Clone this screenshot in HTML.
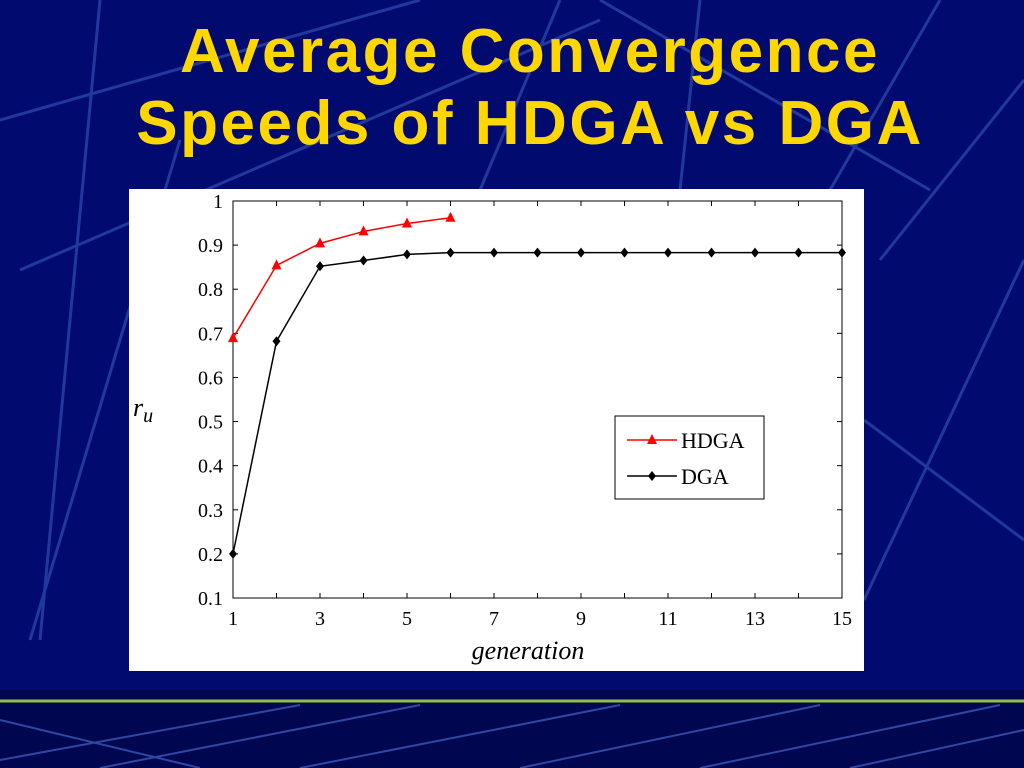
<!DOCTYPE html>
<html><head><meta charset="utf-8"><style>
html,body{margin:0;padding:0;width:1024px;height:768px;overflow:hidden;background:#00086b;font-family:"Liberation Sans",sans-serif}
#bg{position:absolute;left:0;top:0}
#title{position:absolute;left:0;top:16px;width:1060px;text-align:center;color:#ffd700;font-weight:bold;font-size:62px;line-height:72px;letter-spacing:2.5px}
#chart{position:absolute;left:129px;top:189px}
</style></head><body>
<svg id="bg" width="1024" height="768">
<rect width="1024" height="768" fill="#010a6e"/>
<g stroke="#2a45a8" stroke-width="3" fill="none" opacity="0.8">
<line x1="0" y1="120" x2="420" y2="0"/>
<line x1="20" y1="270" x2="600" y2="20"/>
<line x1="100" y1="0" x2="40" y2="640"/>
<line x1="180" y1="140" x2="30" y2="640"/>
<line x1="560" y1="0" x2="480" y2="190"/>
<line x1="600" y1="0" x2="930" y2="190"/>
<line x1="940" y1="0" x2="830" y2="190"/>
<line x1="880" y1="260" x2="1024" y2="80"/>
<line x1="864" y1="600" x2="1024" y2="260"/>
<line x1="864" y1="420" x2="1024" y2="540"/>
<line x1="700" y1="0" x2="680" y2="190"/>
</g>
<rect y="690" width="1024" height="78" fill="#000750"/>
<line x1="0" y1="701" x2="1024" y2="701" stroke="#8fbf4a" stroke-width="3"/>
<g stroke="#3a58b8" stroke-width="2" opacity="0.8">
<line x1="0" y1="760" x2="300" y2="705"/><line x1="100" y1="768" x2="420" y2="705"/>
<line x1="300" y1="768" x2="620" y2="705"/><line x1="520" y1="768" x2="820" y2="705"/>
<line x1="700" y1="768" x2="1000" y2="705"/><line x1="850" y1="768" x2="1024" y2="730"/>
<line x1="0" y1="720" x2="200" y2="768"/>
</g>
</svg>
<div id="title">Average Convergence<br>Speeds of HDGA vs DGA</div>
<svg id="chart" width="735" height="482"></svg>
<script>
const generations=[1,2,3,4,5,6,7,8,9,10,11,12,13,14,15];
const hdga=[0.689,0.854,0.904,0.931,0.949,0.962];
const dga=[0.2,0.682,0.852,0.865,0.879,0.883,0.883,0.883,0.883,0.883,0.883,0.883,0.883,0.883,0.883];
const yTicks=[0.1,0.2,0.3,0.4,0.5,0.6,0.7,0.8,0.9,1];
const xTicks=[1,3,5,7,9,11,13,15];
const NS="http://www.w3.org/2000/svg";
const svg=document.getElementById('chart');
const L=104,R=713,T=12,B=409;
const xs=g=>L+(g-1)/14*(R-L);
const ys=v=>B-(v-0.1)/0.9*(B-T);
function mk(t,a,p){const e=document.createElementNS(NS,t);for(const k in a)e.setAttribute(k,a[k]);(p||svg).appendChild(e);return e;}
const bg=mk('rect',{x:0,y:0,width:735,height:482,fill:'#fff'});


const frame=mk('rect',{x:L,y:T,width:R-L,height:B-T,fill:'none',stroke:'#000','stroke-width':1});


const font='"Liberation Serif",serif';
yTicks.forEach(v=>{const y=ys(v);
mk('line',{x1:L,x2:L+5,y1:y,y2:y,stroke:'#000'});mk('line',{x1:R,x2:R-5,y1:y,y2:y,stroke:'#000'});
const t=mk('text',{x:L-10,y:y+7,'text-anchor':'end','font-family':font,'font-size':20,fill:'#000'});t.textContent=v;

});
generations.forEach(g=>{const x=xs(g);mk('line',{x1:x,x2:x,y1:B,y2:B-5,stroke:'#000'});mk('line',{x1:x,x2:x,y1:T,y2:T+5,stroke:'#000'});});
xTicks.forEach(g=>{const t=mk('text',{x:xs(g),y:B+27,'text-anchor':'middle','font-family':font,'font-size':20,fill:'#000'});t.textContent=g;

});
const xt=mk('text',{x:399,y:470,'text-anchor':'middle','font-family':font,'font-size':26,'font-style':'italic',fill:'#000'});xt.textContent='generation';


const yt=mk('text',{x:4,y:227,'font-family':font,'font-size':26,'font-style':'italic',fill:'#000'});yt.innerHTML='r<tspan font-size="20" dy="6">u</tspan>';


function series(vals,color,marker,name){
const pts=vals.map((v,i)=>xs(generations[i])+','+ys(v)).join(' ');
const pl=mk('polyline',{points:pts,fill:'none',stroke:color,'stroke-width':1.5});


vals.forEach((v,i)=>{const x=xs(generations[i]),y=ys(v);let m;
if(marker==='tri')m=mk('polygon',{points:`${x},${y-6} ${x-5},${y+4} ${x+5},${y+4}`,fill:color});
else m=mk('polygon',{points:`${x},${y-5} ${x+4},${y} ${x},${y+5} ${x-4},${y}`,fill:color});

});}
series(dga,'#000','dia','dga');
series(hdga,'#ff0000','tri','hdga');
const lg=mk('g',{});


mk('rect',{x:486,y:227,width:149,height:83,fill:'#fff',stroke:'#000'},lg);
mk('line',{x1:498,x2:548,y1:251,y2:251,stroke:'#ff0000','stroke-width':1.5},lg);
mk('polygon',{points:'523,245 518,255 528,255',fill:'#ff0000'},lg);
mk('line',{x1:498,x2:548,y1:287,y2:287,stroke:'#000','stroke-width':1.5},lg);
mk('polygon',{points:'523,282 527,287 523,292 519,287',fill:'#000'},lg);
const l1=mk('text',{x:552,y:259,'font-family':font,'font-size':22,fill:'#000'},lg);l1.textContent='HDGA';


const l2=mk('text',{x:552,y:295,'font-family':font,'font-size':22,fill:'#000'},lg);l2.textContent='DGA';


</script>
</body></html>
